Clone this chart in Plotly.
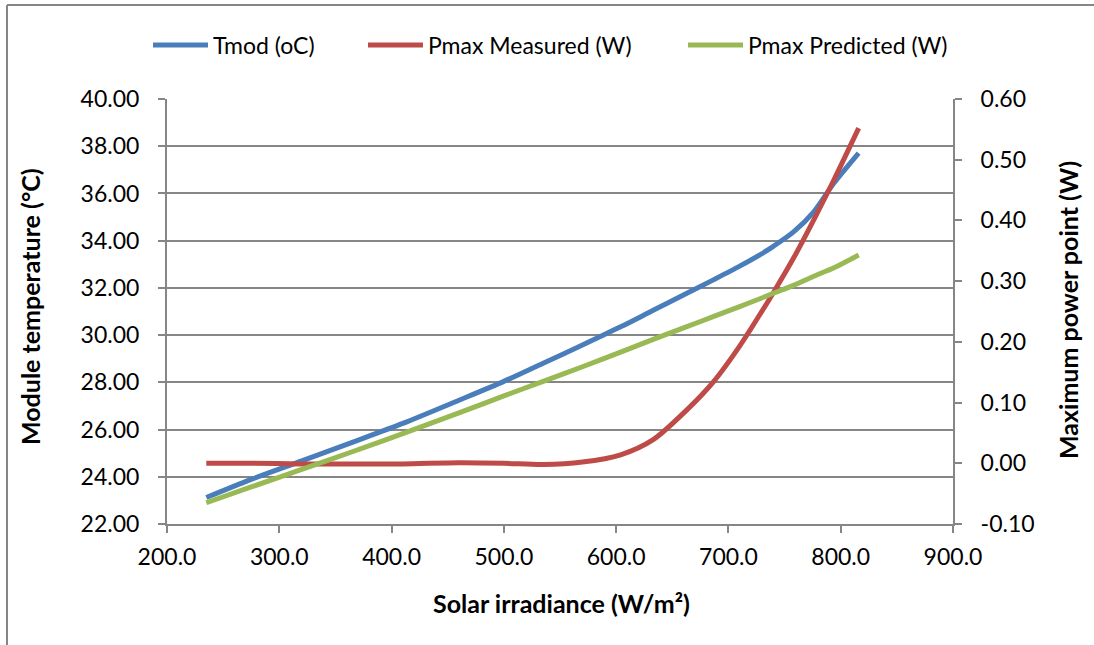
import plotly.graph_objects as go

irradiance = [235, 275, 320, 365, 410, 460, 500, 535, 570, 604, 633, 663, 687, 710, 728, 740, 758, 776, 794, 816]
tmod = [23.12, 23.89, 24.67, 25.46, 26.26, 27.24, 28.04, 28.81, 29.58, 30.35, 31.05, 31.77, 32.35, 32.92, 33.40, 33.76, 34.37, 35.22, 36.44, 37.71]
pmax_measured = [0.000, 0.000, -0.001, -0.001, -0.001, 0.001, 0.000, -0.002, 0.002, 0.014, 0.039, 0.088, 0.135, 0.193, 0.245, 0.281, 0.338, 0.401, 0.467, 0.552]
pmax_predicted = [-0.065, -0.039, -0.010, 0.019, 0.049, 0.083, 0.111, 0.135, 0.159, 0.183, 0.204, 0.225, 0.242, 0.258, 0.271, 0.280, 0.293, 0.308, 0.322, 0.343]

names = ["Tmod (oC)", "Pmax Measured (W)", "Pmax Predicted (W)"]
colors = ["#4A7EBB", "#BE4B48", "#98B954"]

x_ticks = [200, 300, 400, 500, 600, 700, 800, 900]
x_tick_text = ["200.0", "300.0", "400.0", "500.0", "600.0", "700.0", "800.0", "900.0"]
y_ticks = [22, 24, 26, 28, 30, 32, 34, 36, 38, 40]
y_tick_text = ["22.00", "24.00", "26.00", "28.00", "30.00", "32.00", "34.00", "36.00", "38.00", "40.00"]
y2_ticks = [-0.1, 0.0, 0.1, 0.2, 0.3, 0.4, 0.5, 0.6]
y2_tick_text = ["-0.10", "0.00", "0.10", "0.20", "0.30", "0.40", "0.50", "0.60"]

FONT = "Lato, 'Open Sans', sans-serif"
GRID = "#868686"
W, H = 1094, 645
L, R, T, B = 167, 141, 99, 121
PW, PH = W - L - R, H - T - B


def px_x(p):
    return (p - L) / PW


def px_y(p):
    return (H - B - p) / PH


fig = go.Figure()
fig.add_trace(go.Scatter(x=irradiance, y=tmod, name=names[0], mode="lines", legend="legend",
                         line=dict(color=colors[0], width=5, shape="spline", smoothing=0.8)))
fig.add_trace(go.Scatter(x=irradiance, y=pmax_measured, name=names[1], mode="lines", yaxis="y2",
                         legend="legend2",
                         line=dict(color=colors[1], width=5, shape="spline", smoothing=0.8)))
fig.add_trace(go.Scatter(x=irradiance, y=pmax_predicted, name=names[2], mode="lines", yaxis="y2",
                         legend="legend3",
                         line=dict(color=colors[2], width=5, shape="spline", smoothing=0.8)))

leg_common = dict(orientation="h", yanchor="middle", xanchor="left",
                  font=dict(family=FONT, size=23, color="black"),
                  bgcolor="rgba(0,0,0,0)", borderwidth=0, itemwidth=55)

axis_common = dict(zeroline=False, showline=True, linecolor=GRID, linewidth=2,
                   ticks="outside", ticklen=7, tickcolor=GRID, tickwidth=2,
                   tickfont=dict(family=FONT, size=23, color="black"))

fig.update_layout(
    width=W, height=H,
    margin=dict(l=L, r=R, t=T, b=B),
    paper_bgcolor="white", plot_bgcolor="white",
    font=dict(family=FONT, size=23, color="black"),
    showlegend=True,
    legend=dict(x=px_x(148), y=px_y(45), **leg_common),
    legend2=dict(x=px_x(363), y=px_y(45), **leg_common),
    legend3=dict(x=px_x(683), y=px_y(45), **leg_common),
    xaxis=dict(range=[200, 900], tickmode="array", tickvals=x_ticks, ticktext=x_tick_text,
               showgrid=False, ticklabelstandoff=4, **axis_common),
    yaxis=dict(range=[22, 40], tickmode="array", tickvals=y_ticks, ticktext=y_tick_text,
               showgrid=True, gridcolor=GRID, gridwidth=2, ticklabelstandoff=14, **axis_common),
    yaxis2=dict(range=[-0.1, 0.6], tickmode="array", tickvals=y2_ticks, ticktext=y2_tick_text,
                overlaying="y", side="right", showgrid=False, ticklabelstandoff=14, **axis_common),
    shapes=[
        dict(type="line", xref="paper", yref="paper", x0=px_x(7), x1=px_x(1200), y0=px_y(5), y1=px_y(5),
             line=dict(color=GRID, width=2)),
        dict(type="line", xref="paper", yref="paper", x0=px_x(7), x1=px_x(7), y0=px_y(700), y1=px_y(5),
             line=dict(color=GRID, width=2)),
    ],
    annotations=[
        dict(text="<b>Module temperature (°C)</b>", xref="paper", yref="paper",
             x=px_x(30), y=px_y(307), textangle=-90, showarrow=False,
             xanchor="center", yanchor="middle", font=dict(family=FONT, size=25)),
        dict(text="<b>Maximum power point (W)</b>", xref="paper", yref="paper",
             x=px_x(1068), y=px_y(310), textangle=-90, showarrow=False,
             xanchor="center", yanchor="middle", font=dict(family=FONT, size=25)),
        dict(text="<b>Solar irradiance (W/m²)</b>", xref="paper", yref="paper",
             x=px_x(561), y=px_y(603), showarrow=False,
             xanchor="center", yanchor="middle", font=dict(family=FONT, size=25)),
    ],
)

fig.write_html("out.html", config={"displayModeBar": False},
               post_script="document.body.style.margin='0';document.body.style.padding='0';")
